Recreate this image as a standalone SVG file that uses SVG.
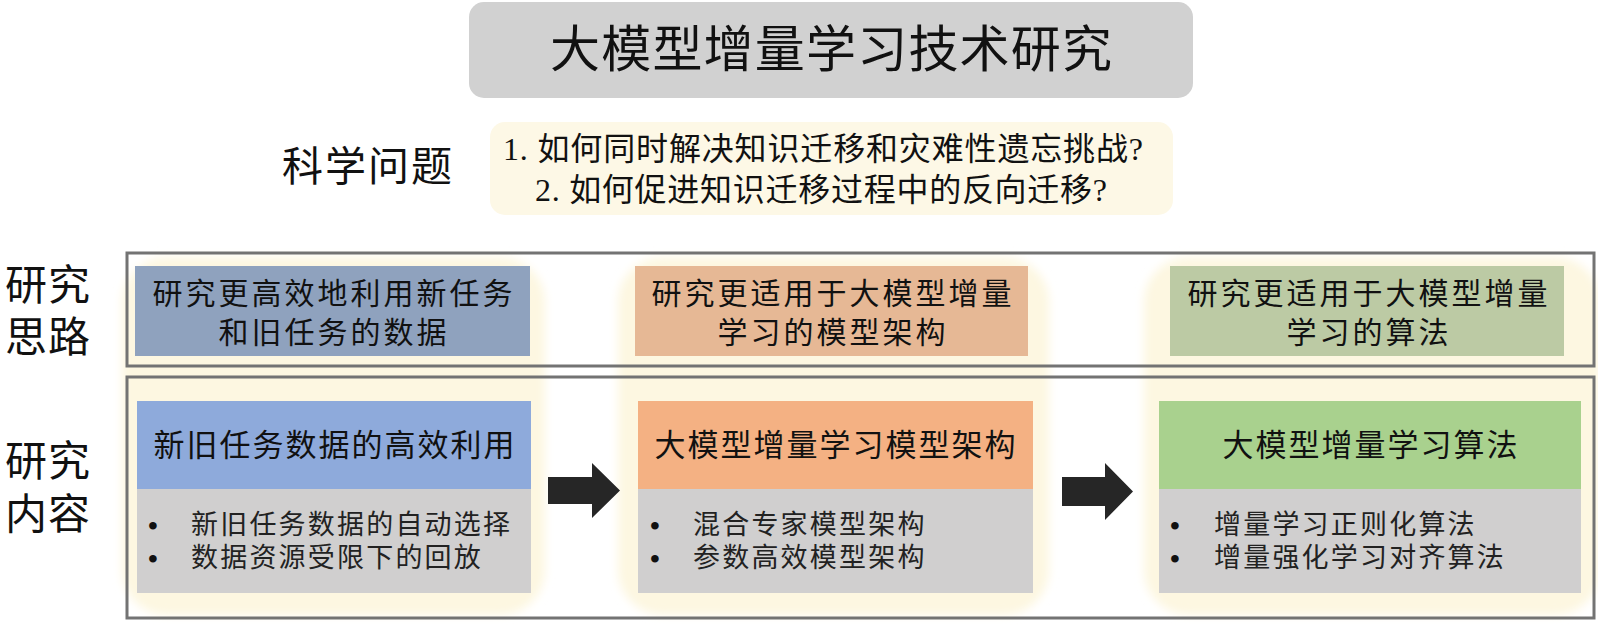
<svg xmlns="http://www.w3.org/2000/svg" width="1598" height="625" viewBox="0 0 1598 625">
<style>
  text { font-family: 'Liberation Serif', 'Noto Sans CJK SC', serif; fill: #111; dominant-baseline: central; }
  .mid { text-anchor: middle; }
  .title { font-size: 50px; }
  .label { font-size: 42px; letter-spacing: 1px; }
  .q { font-size: 32px; }
  .hdr { font-size: 30px; letter-spacing: 3px; text-anchor: middle; }
  .ctitle { font-size: 31px; letter-spacing: 2px; text-anchor: middle; }
  .bul { font-size: 27px; letter-spacing: 2.2px; fill: #222; }
  .dot { font-size: 28px; font-weight: bold; fill: #111; }
  .frame { fill: none; stroke: #737373; stroke-width: 3; }
  .glow { fill: #fdf7e1; filter: url(#soft); }
  .gray { fill: #d0cfcf; }
  .arrow { fill: #262626; }
</style>
<defs>
  <filter id="soft" x="-10%" y="-10%" width="120%" height="120%">
    <feGaussianBlur stdDeviation="5"/>
  </filter>
</defs>
<rect width="1598" height="625" fill="#ffffff"/>

<g id="glows">
  <rect class="glow" x="122" y="257" width="423" height="358" rx="45"/>
  <rect class="glow" x="618" y="257" width="431" height="358" rx="45"/>
  <rect class="glow" x="1144" y="257" width="456" height="358" rx="45"/>
</g>

<g id="title">
  <rect x="469" y="2" width="724" height="96" rx="15" fill="#d1d1d1"/>
  <text class="title mid" x="831" y="50" textLength="562" lengthAdjust="spacing">大模型增量学习技术研究</text>
</g>

<g id="science-question">
  <text class="label" x="282" y="167" style="font-size:41px;letter-spacing:2px">科学问题</text>
  <rect x="490" y="122" width="683" height="93" rx="15" fill="#fdf8e6"/>
  <text class="q" x="503" y="149" textLength="640" lengthAdjust="spacing">1. 如何同时解决知识迁移和灾难性遗忘挑战?</text>
  <text class="q" x="535" y="190" textLength="572" lengthAdjust="spacing">2. 如何促进知识迁移过程中的反向迁移?</text>
</g>

<g id="row-labels">
  <text class="label mid" x="48" y="286">研究</text>
  <text class="label mid" x="48" y="338">思路</text>
  <text class="label mid" x="48" y="462">研究</text>
  <text class="label mid" x="48" y="515">内容</text>
</g>

<g id="frames">
  <rect class="frame" x="127" y="253" width="1467" height="113"/>
  <rect class="frame" x="127" y="377" width="1467" height="241"/>
</g>

<g id="idea-1">
  <rect x="135" y="266" width="395" height="90" fill="#8fa2be"/>
  <text class="hdr" x="334" y="293">研究更高效地利用新任务</text>
  <text class="hdr" x="334" y="332">和旧任务的数据</text>
</g>
<g id="idea-2">
  <rect x="635" y="266" width="393" height="90" fill="#e6b895"/>
  <text class="hdr" x="833" y="293">研究更适用于大模型增量</text>
  <text class="hdr" x="833" y="332">学习的模型架构</text>
</g>
<g id="idea-3">
  <rect x="1170" y="266" width="394" height="90" fill="#bccaa4"/>
  <text class="hdr" x="1369" y="293">研究更适用于大模型增量</text>
  <text class="hdr" x="1369" y="332">学习的算法</text>
</g>

<g id="content-1">
  <rect x="137" y="401" width="394" height="88" fill="#8eaadb"/>
  <text class="ctitle" x="335" y="445">新旧任务数据的高效利用</text>
  <rect class="gray" x="137" y="489" width="394" height="104"/>
  <text class="dot" x="148" y="525">•</text>
  <text class="bul" x="191" y="525">新旧任务数据的自动选择</text>
  <text class="dot" x="148" y="558">•</text>
  <text class="bul" x="191" y="558">数据资源受限下的回放</text>
</g>
<g id="content-2">
  <rect x="638" y="401" width="395" height="88" fill="#f4b183"/>
  <text class="ctitle" x="836" y="445">大模型增量学习模型架构</text>
  <rect class="gray" x="638" y="489" width="395" height="104"/>
  <text class="dot" x="650" y="525">•</text>
  <text class="bul" x="693" y="525">混合专家模型架构</text>
  <text class="dot" x="650" y="558">•</text>
  <text class="bul" x="693" y="558">参数高效模型架构</text>
</g>
<g id="content-3">
  <rect x="1159" y="401" width="422" height="88" fill="#a9d18e"/>
  <text class="ctitle" x="1371" y="445">大模型增量学习算法</text>
  <rect class="gray" x="1159" y="489" width="422" height="104"/>
  <text class="dot" x="1170" y="525">•</text>
  <text class="bul" x="1214" y="525">增量学习正则化算法</text>
  <text class="dot" x="1170" y="558">•</text>
  <text class="bul" x="1214" y="558">增量强化学习对齐算法</text>
</g>

<g id="connectors">
  <polygon class="arrow" points="548,477 592,477 592,463 620,490.5 592,518 592,504 548,504"/>
  <polygon class="arrow" points="1062,477 1105,477 1105,463 1133,491.5 1105,520 1105,506 1062,506"/>
</g>
</svg>
